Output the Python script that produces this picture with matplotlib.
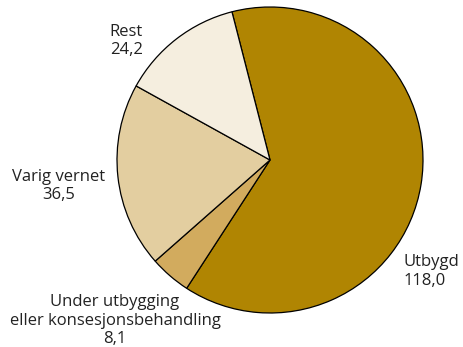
import matplotlib
matplotlib.use("Agg")
import matplotlib.pyplot as plt

labels = ["Utbygd", "Under utbygging\neller konsesjonsbehandling", "Varig vernet", "Rest"]
values = [118.0, 8.1, 36.5, 24.2]
colors = ["#B08502", "#D2AB5E", "#E3CEA0", "#F5EEDF"]

plt.rcParams['font.family'] = ['Open Sans', 'DejaVu Sans']

fig = plt.figure(figsize=(4.63, 3.47), dpi=100)
ax = fig.add_axes([117 / 463, 34 / 347, 306 / 463, 306 / 347])

ax.pie(values, colors=colors, startangle=104.4, counterclock=False,
       wedgeprops=dict(edgecolor="black", linewidth=0.9), radius=1.0)
ax.set_xlim(-1, 1)
ax.set_ylim(-1, 1)
ax.set_aspect("equal")
ax.axis("off")

def fmt(v):
    return ("%.1f" % v).replace(".", ",")

# label positions (pie units)
pos = [(0.87, -0.73, "left"), (-1.013, -1.05, "center"),
       (-1.38, -0.17, "center"), (-0.94, 0.778, "center")]
for (x, y, ha), lab, v in zip(pos, labels, values):
    ax.text(x, y, lab + "\n" + fmt(v), ha=ha, va="center", fontsize=12,
            color="#222222", linespacing=1.2, clip_on=False)

fig.savefig("out.png", dpi=100)
